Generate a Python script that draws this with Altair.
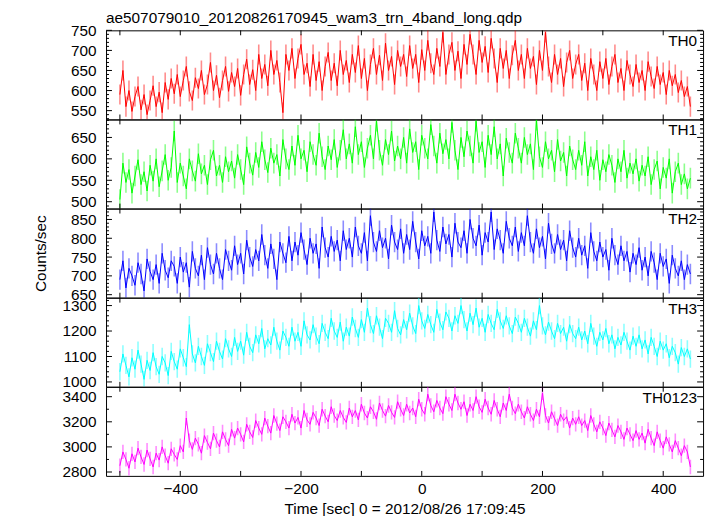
import math
import altair as alt
import pandas as pd

TITLE = "ae507079010_20120826170945_wam3_trn_4band_long.qdp"
X_TITLE = "Time [sec] 0 = 2012/08/26 17:09:45"
Y_TITLE = "Counts/sec"

time_sec = list(range(-500, 450, 5))

th0 = [
    590, 650, 560, 600, 548, 585, 610, 552, 590, 540, 575, 612, 560, 596, 545, 620, 578, 630, 592,
    640, 585, 625, 660, 598, 575, 632, 605, 650, 590, 615, 670, 600, 638, 582, 625, 660, 598, 645,
    610, 655, 588, 640, 678, 615, 652, 600, 690, 630, 665, 612, 700, 640, 675, 620, 545, 690, 650,
    705, 630, 680, 715, 640, 668, 610, 690, 625, 672, 600, 660, 695, 625, 668, 612, 700, 640, 675,
    620, 690, 645, 712, 630, 680, 600, 665, 705, 640, 688, 625, 718, 650, 685, 615, 700, 660, 690,
    635, 712, 655, 690, 620, 702, 650, 725, 668, 640, 705, 660, 745, 640, 690, 720, 650, 698, 630,
    715, 665, 740, 690, 640, 725, 670, 710, 645, 730, 680, 620, 705, 655, 700, 630, 688, 725, 650,
    690, 630, 705, 655, 685, 615, 700, 650, 745, 660, 620, 690, 640, 680, 610, 670, 700, 630, 665,
    690, 625, 668, 600, 680, 640, 600, 672, 630, 680, 615, 660, 690, 620, 655, 600, 675, 640, 610,
    665, 620, 650, 600, 672, 635, 605, 660, 615, 645, 590, 650, 612, 640, 595, 625, 585, 610, 560,
]
th1 = [
    505, 590, 545, 575, 520, 560, 598, 540, 570, 525, 585, 548, 600, 535, 572, 610, 550, 580, 665,
    545, 590, 560, 530, 600, 572, 548, 612, 565, 585, 540, 598, 620, 560, 585, 545, 605, 570, 595,
    555, 610, 575, 540, 628, 590, 562, 615, 580, 640, 598, 568, 625, 590, 610, 560, 645, 600, 575,
    630, 585, 655, 600, 620, 570, 640, 610, 585, 660, 605, 575, 630, 598, 645, 580, 620, 668, 600,
    635, 590, 675, 610, 640, 580, 625, 655, 600, 688, 620, 585, 645, 610, 665, 595, 630, 600, 650,
    590, 670, 615, 640, 575, 655, 625, 600, 680, 630, 590, 660, 612, 645, 600, 685, 620, 575, 650,
    605, 665, 630, 590, 688, 615, 640, 580, 655, 610, 675, 600, 635, 560, 648, 615, 590, 660, 625,
    590, 650, 610, 635, 575, 690, 605, 580, 640, 600, 620, 570, 645, 595, 615, 560, 630, 598, 575,
    620, 585, 640, 560, 605, 575, 620, 550, 598, 570, 610, 585, 545, 600, 570, 620, 555, 590, 565,
    600, 548, 585, 560, 605, 540, 575, 595, 530, 580, 555, 600, 520, 570, 590, 540, 565, 530, 555,
]
th2 = [
    690, 740, 668, 720, 700, 675, 735, 705, 660, 745, 712, 690, 730, 680, 760, 715, 695, 740, 725,
    680, 750, 710, 735, 670, 765, 720, 700, 755, 690, 775, 730, 705, 760, 720, 690, 770, 740, 715,
    780, 730, 760, 705, 795, 750, 725, 770, 740, 810, 755, 720, 785, 745, 690, 790, 760, 735, 805,
    740, 790, 755, 815, 770, 730, 800, 760, 785, 720, 830, 775, 750, 805, 765, 795, 740, 820, 770,
    800, 750, 830, 780, 760, 815, 740, 860, 790, 765, 820, 775, 800, 745, 835, 790, 770, 825, 760,
    810, 770, 845, 790, 745, 820, 780, 805, 760, 870, 795, 765, 830, 785, 810, 750, 840, 790, 775,
    820, 760, 850, 800, 780, 835, 755, 815, 790, 870, 770, 825, 795, 760, 845, 800, 780, 830, 765,
    815, 780, 860, 790, 760, 825, 775, 805, 745, 840, 785, 760, 810, 770, 795, 740, 820, 775, 750,
    800, 755, 780, 720, 815, 765, 740, 790, 750, 770, 715, 800, 755, 730, 780, 740, 765, 710, 760,
    730, 775, 715, 750, 700, 765, 735, 690, 760, 725, 745, 680, 755, 720, 700, 740, 690, 730, 705,
]
th3 = [
    1040, 1110, 1065, 1020, 1095, 1050, 1125, 1070, 1010, 1085, 1045, 1115, 1060, 1030, 1100, 1075, 1025, 1120, 1080,
    1050, 1130, 1095, 1060, 1225, 1110, 1075, 1140, 1100, 1065, 1150, 1115, 1080, 1160, 1120, 1090, 1170, 1130, 1100,
    1175, 1120, 1160, 1105, 1195, 1140, 1115, 1185, 1150, 1210, 1130, 1170, 1145, 1215, 1160, 1125, 1200, 1175, 1140,
    1215, 1160, 1195, 1140, 1240, 1185, 1165, 1225, 1180, 1150, 1230, 1195, 1170, 1250, 1200, 1175, 1235, 1160, 1215,
    1180, 1255, 1210, 1175, 1245, 1195, 1290, 1225, 1190, 1260, 1215, 1170, 1250, 1230, 1195, 1280, 1210, 1185, 1245,
    1205, 1270, 1220, 1190, 1300, 1240, 1210, 1265, 1225, 1195, 1285, 1235, 1205, 1275, 1250, 1200, 1260, 1230, 1300,
    1245, 1200, 1270, 1225, 1290, 1215, 1250, 1195, 1265, 1230, 1205, 1285, 1240, 1210, 1260, 1220, 1190, 1255, 1230,
    1195, 1250, 1215, 1180, 1240, 1205, 1300, 1220, 1185, 1235, 1200, 1170, 1230, 1190, 1215, 1160, 1225, 1190, 1170,
    1215, 1165, 1200, 1150, 1230, 1180, 1140, 1195, 1165, 1210, 1150, 1185, 1130, 1175, 1145, 1195, 1160, 1125, 1180,
    1140, 1185, 1130, 1165, 1110, 1175, 1140, 1100, 1160, 1125, 1150, 1095, 1140, 1115, 1070, 1135, 1100, 1130, 1090,
]
th0123 = [
    2850, 2960, 2900, 2830, 2945, 2880, 2990, 2920, 2860, 2975, 2905, 2840, 2950, 2895, 3000, 2930, 2870, 2985, 2940,
    2900, 3010, 2960, 3230, 3050, 2980, 3070, 3020, 2950, 3090, 3035, 2985, 3110, 3050, 3000, 3120, 3060, 3010, 3140,
    3070, 3150, 3100, 3040, 3180, 3120, 3075, 3210, 3150, 3100, 3230, 3165, 3110, 3250, 3185, 3130, 3240, 3200, 3150,
    3260, 3190, 3235, 3150, 3290, 3215, 3180, 3275, 3230, 3170, 3300, 3245, 3200, 3320, 3250, 3210, 3290, 3235, 3195,
    3310, 3240, 3290, 3215, 3340, 3270, 3230, 3320, 3280, 3220, 3350, 3290, 3245, 3330, 3275, 3235, 3360, 3300, 3250,
    3340, 3270, 3310, 3240, 3380, 3300, 3260, 3420, 3330, 3280, 3370, 3310, 3265, 3400, 3340, 3290, 3420, 3350, 3300,
    3360, 3250, 3340, 3290, 3400, 3320, 3275, 3380, 3310, 3260, 3370, 3300, 3240, 3350, 3290, 3420, 3310, 3265, 3340,
    3280, 3230, 3320, 3260, 3210, 3300, 3240, 3430, 3250, 3190, 3280, 3225, 3170, 3260, 3210, 3240, 3150, 3230, 3180,
    3240, 3170, 3210, 3130, 3250, 3180, 3120, 3200, 3150, 3090, 3190, 3135, 3080, 3170, 3120, 3060, 3150, 3100, 3050,
    3130, 3060, 3110, 3030, 3140, 3070, 3010, 3120, 3050, 2990, 3080, 3020, 2960, 3050, 2990, 2930, 3010, 2960, 2840,
]

series = [th0, th1, th2, th3, th0123]
bands = ["TH0", "TH1", "TH2", "TH3", "TH0123"]
colors = ["#ff0000", "#00ff00", "#0000ff", "#00ffff", "#ff00ff"]
errors = [25, 24, 27, 34, 57]
y_domains = [[528, 750], [484, 692], [642, 879], [981, 1331], [2769, 3479]]
y_label_values = [
    [550, 600, 650, 700, 750],
    [500, 550, 600, 650],
    [650, 700, 750, 800, 850],
    [1000, 1100, 1200, 1300],
    [2800, 3000, 3200, 3400],
]
y_minor_steps = [10, 10, 10, 20, 100]
y_major_steps = [50, 50, 50, 100, 200]
x_domain = [-523, 466]
x_tick_values = list(range(-500, 401, 100))
x_label_values = [-400, -200, 0, 200, 400]

for s in series:
    assert len(s) == len(time_sec), len(s)

W, H = 603, 90
FONT = "Liberation Sans"
FS = 15.5
MAJ, MIN, XT = 6, 3, 5


def panel(i):
    df = pd.DataFrame({"t": time_sec, "rate": series[i]})
    df["lo"] = df["rate"] - errors[i]
    df["hi"] = df["rate"] + errors[i]
    xs = alt.Scale(domain=x_domain, nice=False, zero=False, clamp=True)
    ys = alt.Scale(domain=y_domains[i], nice=False, zero=False, clamp=True)
    lo, hi = y_domains[i]
    st = y_minor_steps[i]
    yticks = list(range(int(math.ceil(lo / st) * st), hi + 1, st))
    ymaj = [v for v in yticks if v % y_major_steps[i] == 0]
    ymin = [v for v in yticks if v % y_major_steps[i] != 0]

    y_labels = alt.Axis(orient="left", values=y_label_values[i], ticks=False, tickSize=0,
                        domain=False, grid=False, labelPadding=10, format="d",
                        title=Y_TITLE if i == 2 else None, titlePadding=22)
    if i == 4:
        x_labels = alt.Axis(orient="bottom", values=x_label_values, ticks=False, tickSize=0,
                            domain=False, grid=False, labelPadding=6, title=X_TITLE,
                            titlePadding=4, format="d")
    else:
        x_labels = None

    base = alt.Chart(df)
    err = base.mark_rule(color=colors[i], opacity=0.45, strokeWidth=1.6, clip=True).encode(
        x=alt.X("t:Q", scale=xs, axis=None),
        y=alt.Y("lo:Q", scale=ys, axis=None),
        y2="hi:Q",
    )
    line = base.mark_line(color=colors[i], strokeWidth=1, clip=True).encode(
        x=alt.X("t:Q", scale=xs, axis=x_labels),
        y=alt.Y("rate:Q", scale=ys, axis=y_labels),
    )

    def yrule(vals, x0, x1):
        return alt.Chart(pd.DataFrame({"v": vals})).mark_rule(color="black", strokeWidth=1).encode(
            y=alt.Y("v:Q", scale=ys, axis=None), x=alt.value(x0), x2=alt.value(x1))

    def xrule(y0, y1):
        return alt.Chart(pd.DataFrame({"v": x_tick_values})).mark_rule(color="black", strokeWidth=1).encode(
            x=alt.X("v:Q", scale=xs, axis=None), y=alt.value(y0), y2=alt.value(y1))

    ticks = [
        yrule(ymaj, 0, MAJ), yrule(ymin, 0, MIN),
        yrule(ymaj, W, W - MAJ), yrule(ymin, W, W - MIN),
        xrule(0, XT), xrule(H, H - XT),
    ]
    txt = alt.Chart(pd.DataFrame({"band": [bands[i]]})).mark_text(
        align="right", baseline="top", font=FONT, fontSize=FS, color="black"
    ).encode(x=alt.value(W - 6), y=alt.value(4), text="band:N")

    ch = (
        alt.layer(err, line, *ticks, txt)
        .resolve_axis(x="independent", y="independent")
        .properties(width=W, height=H)
    )
    if i == 0:
        ch = ch.properties(
            title=alt.TitleParams(TITLE, anchor="start", frame="group", fontSize=FS, font=FONT,
                                  fontWeight="normal", color="black", offset=-3)
        )
    return ch


chart = (
    alt.vconcat(*[panel(i) for i in range(5)], spacing=0, bounds="flush")
    .properties(padding={"left": 25, "top": 0, "right": 5, "bottom": 2})
    .configure_view(stroke="black", strokeWidth=1)
    .configure_axis(labelFont=FONT, titleFont=FONT, labelFontSize=FS, titleFontSize=FS,
                    labelColor="black", titleColor="black", titleFontWeight="normal")
)

chart.save("out.html", embed_options={"renderer": "svg", "actions": False})
